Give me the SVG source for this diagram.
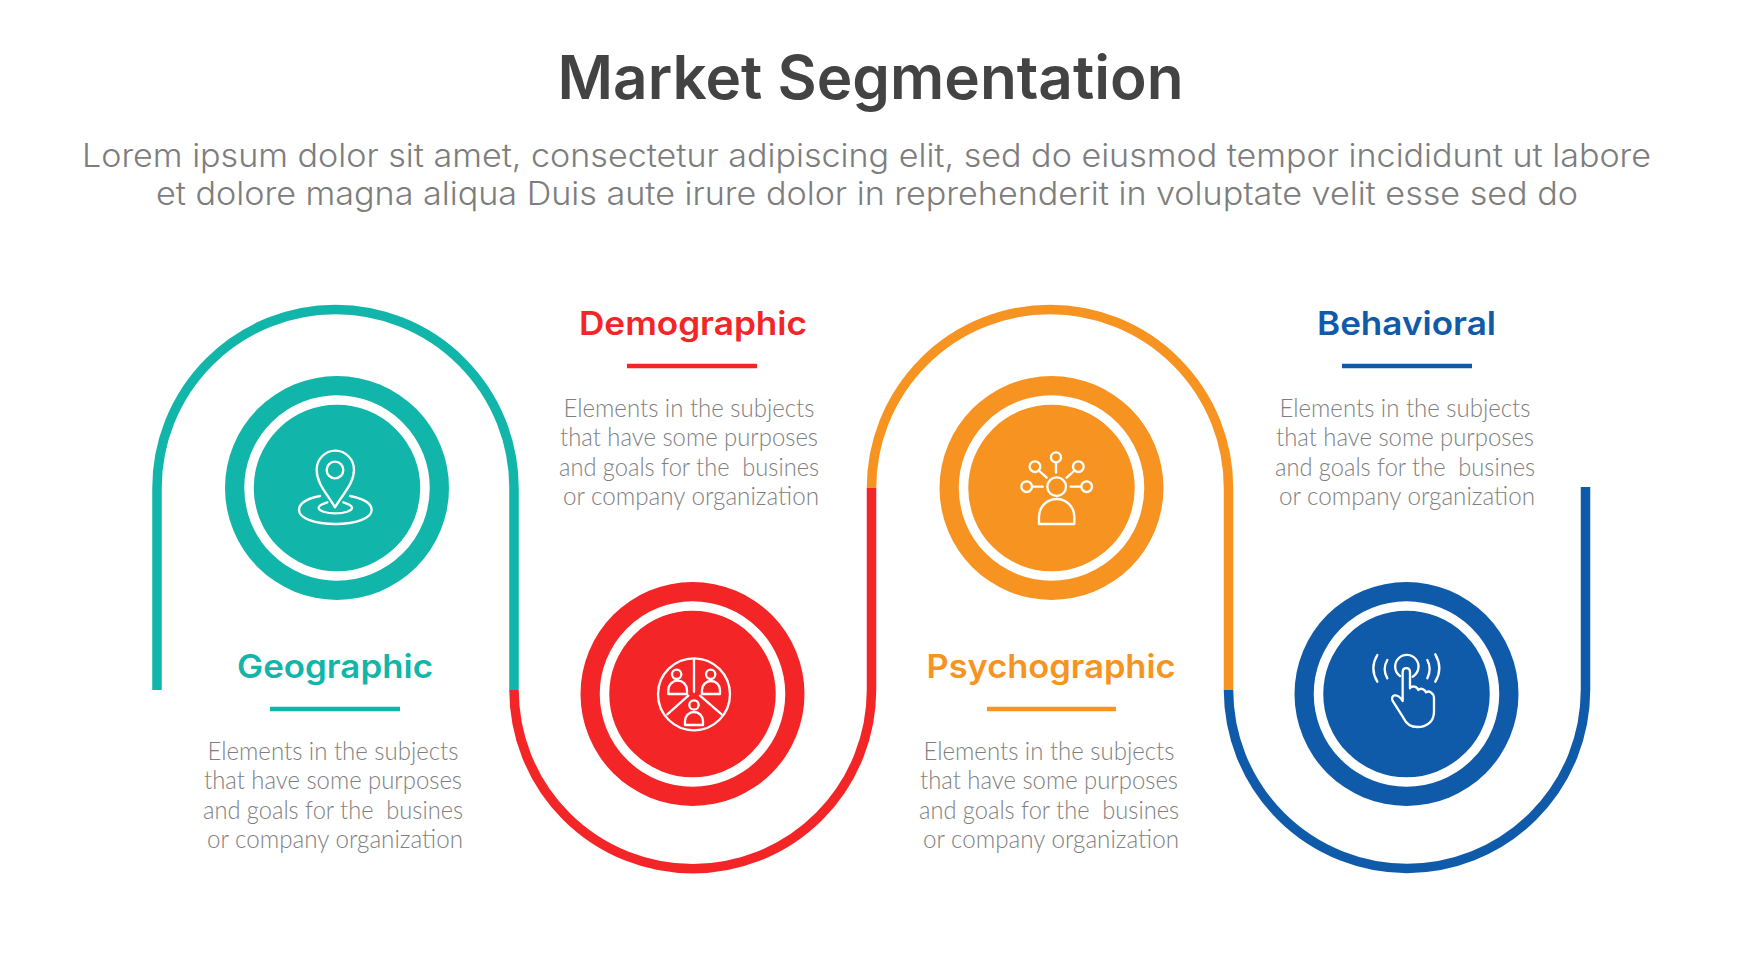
<svg xmlns="http://www.w3.org/2000/svg" width="1742" height="980" viewBox="0 0 1742 980">
<style>
text{text-anchor:middle;white-space:pre}
.title{font:600 60px Inter,"Liberation Sans",sans-serif;fill:#434343}
.sub{font:300 32px Inter,"Liberation Sans",sans-serif;fill:#7d7d7d}
.head{font:600 33px Inter,"Liberation Sans",sans-serif}
.body{font:300 25px Lato,"Liberation Sans",sans-serif;fill:#7f7f7f}
.conn{fill:none;stroke-width:9.5}
.rule{stroke-width:4.5}
.ring{fill:none;stroke:#fff;stroke-width:9.5}
.ic{fill:none;stroke:#fff;stroke-width:7;stroke-linecap:round;stroke-linejoin:round}
</style>
<rect width="1742" height="980" fill="#fff"/>
<text class="title" x="870.500" y="99" textLength="626" lengthAdjust="spacingAndGlyphs">Market Segmentation</text>
<text class="sub" x="866.500" y="167" textLength="1569" lengthAdjust="spacingAndGlyphs">Lorem ipsum dolor sit amet, consectetur adipiscing elit, sed do eiusmod tempor incididunt ut labore</text>
<text class="sub" x="867" y="205" textLength="1422" lengthAdjust="spacingAndGlyphs">et dolore magna aliqua Duis aute irure dolor in reprehenderit in voluptate velit esse sed do</text>
<g id="connectors">
<path class="conn" stroke="#f42527" d="M514 690A178.750 178.750 0 0 0 871.500 690V488"/>
<path class="conn" stroke="#12b5a9" d="M157 690V488A178.500 178.500 0 0 1 514 488V690"/>
<path class="conn" stroke="#0f5baa" d="M1228.500 690A178.500 178.500 0 0 0 1585.500 690V487"/>
<path class="conn" stroke="#f79421" d="M871.500 488A178.500 178.500 0 0 1 1228.500 488V690"/>
</g>
<g id="geographic">
<circle cx="337" cy="488" r="112" fill="#12b5a9"/><circle class="ring" cx="337" cy="488" r="88"/>
<g class="ic" transform="translate(220 370) scale(.3333)">
<path d="M345 412C320 370 290 340 290 300A55 57 0 0 1 402 300C402 340 370 370 345 412Z"/><circle cx="345" cy="300" r="25"/>
<path d="M300 378C255 387 237 403 237 420C237 445 285 462 346 462S455 445 455 420C455 403 435 387 390 378"/>
<path d="M322 397C305 402 296 407 296 413C296 423 318 430 346 430S396 423 396 413C396 407 387 402 370 397"/>
</g>
<text class="head" x="335" y="678" fill="#12b5a9" textLength="196" lengthAdjust="spacingAndGlyphs">Geographic</text>
<line class="rule" x1="270" y1="709" x2="400" y2="709" stroke="#12b5a9"/>
<text class="body" x="333" y="760" textLength="251" lengthAdjust="spacingAndGlyphs">Elements in the subjects</text>
<text class="body" x="333" y="789" textLength="258" lengthAdjust="spacingAndGlyphs">that have some purposes</text>
<text class="body" x="333" y="819" textLength="260" lengthAdjust="spacingAndGlyphs">and goals for the  busines</text>
<text class="body" x="335" y="848" textLength="256" lengthAdjust="spacingAndGlyphs">or company organization</text>
</g>
<g id="demographic">
<circle cx="692.500" cy="694" r="112" fill="#f42527"/><circle class="ring" cx="692.500" cy="694" r="88"/>
<g class="ic" transform="translate(575 575) scale(.3333)">
<circle cx="357" cy="358" r="108"/>
<path d="M357 252V350M340 362L277 418M375 362L440 418"/>
<circle cx="305" cy="298" r="14"/><path d="M280 357V345A28 28 0 0 1 336 345V357Z"/>
<circle cx="407" cy="298" r="14"/><path d="M381 357V345A27 27 0 0 1 435 345V357Z"/>
<circle cx="357" cy="390" r="14"/><path d="M330 450V438A27 27 0 0 1 384 438V450Z"/>
</g>
<text class="head" x="693" y="335" fill="#f42527" textLength="228" lengthAdjust="spacingAndGlyphs">Demographic</text>
<line class="rule" x1="627" y1="366" x2="757" y2="366" stroke="#f42527"/>
<text class="body" x="689" y="417" textLength="251" lengthAdjust="spacingAndGlyphs">Elements in the subjects</text>
<text class="body" x="689" y="446" textLength="258" lengthAdjust="spacingAndGlyphs">that have some purposes</text>
<text class="body" x="689" y="476" textLength="260" lengthAdjust="spacingAndGlyphs">and goals for the  busines</text>
<text class="body" x="691" y="505" textLength="256" lengthAdjust="spacingAndGlyphs">or company organization</text>
</g>
<g id="psychographic">
<circle cx="1051.500" cy="488" r="112" fill="#f79421"/><circle class="ring" cx="1051.500" cy="488" r="88"/>
<g class="ic" transform="translate(930 370) scale(.3333)">
<circle cx="380" cy="350" r="28"/>
<circle cx="378" cy="262" r="15"/><path d="M378 279V308"/>
<circle cx="315" cy="290" r="16"/><path d="M328 303L350 323"/>
<circle cx="445" cy="290" r="16"/><path d="M432 303L410 323"/>
<circle cx="290" cy="350" r="16"/><path d="M308 350H338"/>
<circle cx="470" cy="350" r="16"/><path d="M422 350H452"/>
<path d="M327 462V440A53 53 0 0 1 433 440V462Z"/>
</g>
<text class="head" x="1051" y="678" fill="#f79421" textLength="249" lengthAdjust="spacingAndGlyphs">Psychographic</text>
<line class="rule" x1="987" y1="709" x2="1116" y2="709" stroke="#f79421"/>
<text class="body" x="1049" y="760" textLength="251" lengthAdjust="spacingAndGlyphs">Elements in the subjects</text>
<text class="body" x="1049" y="789" textLength="258" lengthAdjust="spacingAndGlyphs">that have some purposes</text>
<text class="body" x="1049" y="819" textLength="260" lengthAdjust="spacingAndGlyphs">and goals for the  busines</text>
<text class="body" x="1051" y="848" textLength="256" lengthAdjust="spacingAndGlyphs">or company organization</text>
</g>
<g id="behavioral">
<circle cx="1406.500" cy="694" r="112" fill="#0f5baa"/><circle class="ring" cx="1406.500" cy="694" r="88"/>
<g class="ic" transform="translate(1290 575) scale(.3333)">
<path d="M262 240Q238 280 262 320M292 255Q276 282 292 310M412 255Q426 282 412 310M436 238Q460 280 436 320"/>
<path d="M330 303A35 35 0 1 1 368 305"/>
<path d="M338 378V292C338 275 360 275 360 292V340C365 330 382 335 385 345C392 338 405 342 408 352C418 345 432 355 432 370V410C432 440 410 456 382 456C360 456 348 445 340 428L308 378C300 362 320 350 338 378Z"/>
</g>
<text class="head" x="1406.500" y="335" fill="#0f5baa" textLength="179" lengthAdjust="spacingAndGlyphs">Behavioral</text>
<line class="rule" x1="1342" y1="366" x2="1472" y2="366" stroke="#0f5baa"/>
<text class="body" x="1405" y="417" textLength="251" lengthAdjust="spacingAndGlyphs">Elements in the subjects</text>
<text class="body" x="1405" y="446" textLength="258" lengthAdjust="spacingAndGlyphs">that have some purposes</text>
<text class="body" x="1405" y="476" textLength="260" lengthAdjust="spacingAndGlyphs">and goals for the  busines</text>
<text class="body" x="1407" y="505" textLength="256" lengthAdjust="spacingAndGlyphs">or company organization</text>
</g>
</svg>
